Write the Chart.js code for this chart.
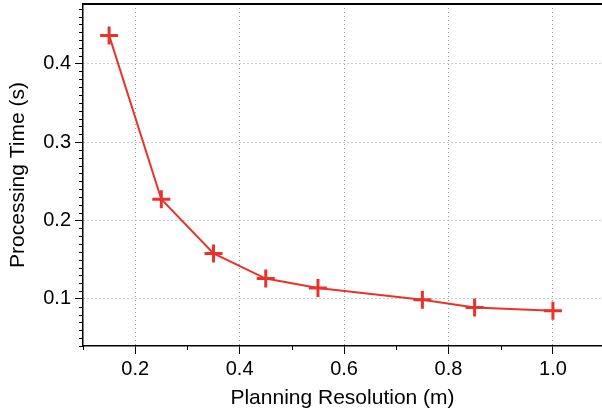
<!DOCTYPE html>
<html>
<head>
<meta charset="utf-8">
<script src="https://cdn.jsdelivr.net/npm/chart.js@4/dist/chart.umd.min.js"></script>
<style>
  html, body { margin: 0; padding: 0; background: #fff; }
  #wrap { width: 602px; height: 415px; }
</style>
</head>
<body>
<div id="wrap"><canvas id="chart"></canvas></div>
<script>
'use strict';

// ── Data ────────────────────────────────────────────────
const resolution = [0.15, 0.25, 0.35, 0.45, 0.55, 0.75, 0.85, 1.0];
const procTime   = [0.436, 0.227, 0.158, 0.126, 0.114, 0.099, 0.089, 0.085];
const xTickVals  = [0.2, 0.4, 0.6, 0.8, 1.0];
const yTickVals  = [0.1, 0.2, 0.3, 0.4];

const FONT = "'Liberation Sans', Arial, Helvetica, sans-serif";
const RED  = '#e8332a';
const GRID = '#9a9a9a';
const X_MIN = 0.1, X_MAX = 1.094;
const Y_MIN = 0.04, Y_MAX = 0.476;

// minor ticks + top frame line
const frame = {
  id: 'frame',
  afterDraw(chart) {
    const { ctx, chartArea: a, scales } = chart;
    ctx.save();
    ctx.setLineDash([]);
    ctx.strokeStyle = '#000';
    ctx.lineWidth = 1;
    ctx.beginPath();
    for (let i = 1; i <= 10; i += 2) {
      const v = i / 10;
      if (v < X_MIN || v > X_MAX) continue;
      const px = Math.round(scales.x.getPixelForValue(v)) + 0.5;
      ctx.moveTo(px, a.bottom);
      ctx.lineTo(px, a.bottom + 4);
    }
    for (let i = 4; i <= 47; i++) {
      if (i % 10 === 0) continue;
      const py = Math.round(scales.y.getPixelForValue(i / 100)) + 0.5;
      ctx.moveTo(a.left, py);
      ctx.lineTo(a.left - 4, py);
    }
    ctx.stroke();
    ctx.lineWidth = 2;
    ctx.beginPath();
    ctx.moveTo(a.left - 1, a.top);
    ctx.lineTo(a.right, a.top);
    ctx.stroke();
    ctx.restore();
  }
};

new Chart(document.getElementById('chart'), {
  type: 'line',
  data: {
    datasets: [{
      data: resolution.map((x, i) => ({ x, y: procTime[i] })),
      borderColor: RED,
      backgroundColor: RED,
      borderWidth: 2,
      pointStyle: 'cross',
      pointRadius: 9,
      pointBorderWidth: 3,
      pointBorderColor: RED,
      tension: 0,
    }],
  },
  plugins: [frame],
  options: {
    responsive: true,
    maintainAspectRatio: false,
    animation: false,
    layout: { autoPadding: false, padding: { top: 4, right: 0, left: 0, bottom: 0 } },
    plugins: { legend: { display: false }, tooltip: { enabled: false } },
    scales: {
      x: {
        type: 'linear',
        min: X_MIN,
        max: X_MAX,
        afterBuildTicks: s => { s.ticks = xTickVals.map(v => ({ value: v })); },
        afterFit: s => { s.height = 69; s.paddingLeft = 0; s.paddingRight = 0; },
        grid: { color: GRID, lineWidth: 1, tickLength: 8, tickColor: '#000' },
        border: { color: '#000', width: 1.5, dash: [1, 3] },
        ticks: { font: { family: FONT, size: 20 }, color: '#000', padding: 3,
                 maxRotation: 0, callback: v => v.toFixed(1) },
        title: { display: true, text: 'Planning Resolution (m)',
                 font: { family: FONT, size: 21 }, color: '#000', padding: { top: 5 } },
      },
      y: {
        type: 'linear',
        min: Y_MIN,
        max: Y_MAX,
        afterBuildTicks: s => { s.ticks = yTickVals.map(v => ({ value: v })); },
        afterFit: s => { s.width = 83; s.paddingTop = 0; s.paddingBottom = 0; },
        grid: { color: GRID, lineWidth: 1, tickLength: 8, tickColor: '#000' },
        border: { color: '#000', width: 1.5, dash: [1, 3] },
        ticks: { font: { family: FONT, size: 20 }, color: '#000', padding: 4,
                 callback: v => v.toFixed(1) },
        title: { display: true, text: 'Processing Time (s)',
                 font: { family: FONT, size: 21 }, color: '#000', padding: { top: 6, bottom: 4 } },
      },
    },
  },
});
</script>
</body>
</html>
